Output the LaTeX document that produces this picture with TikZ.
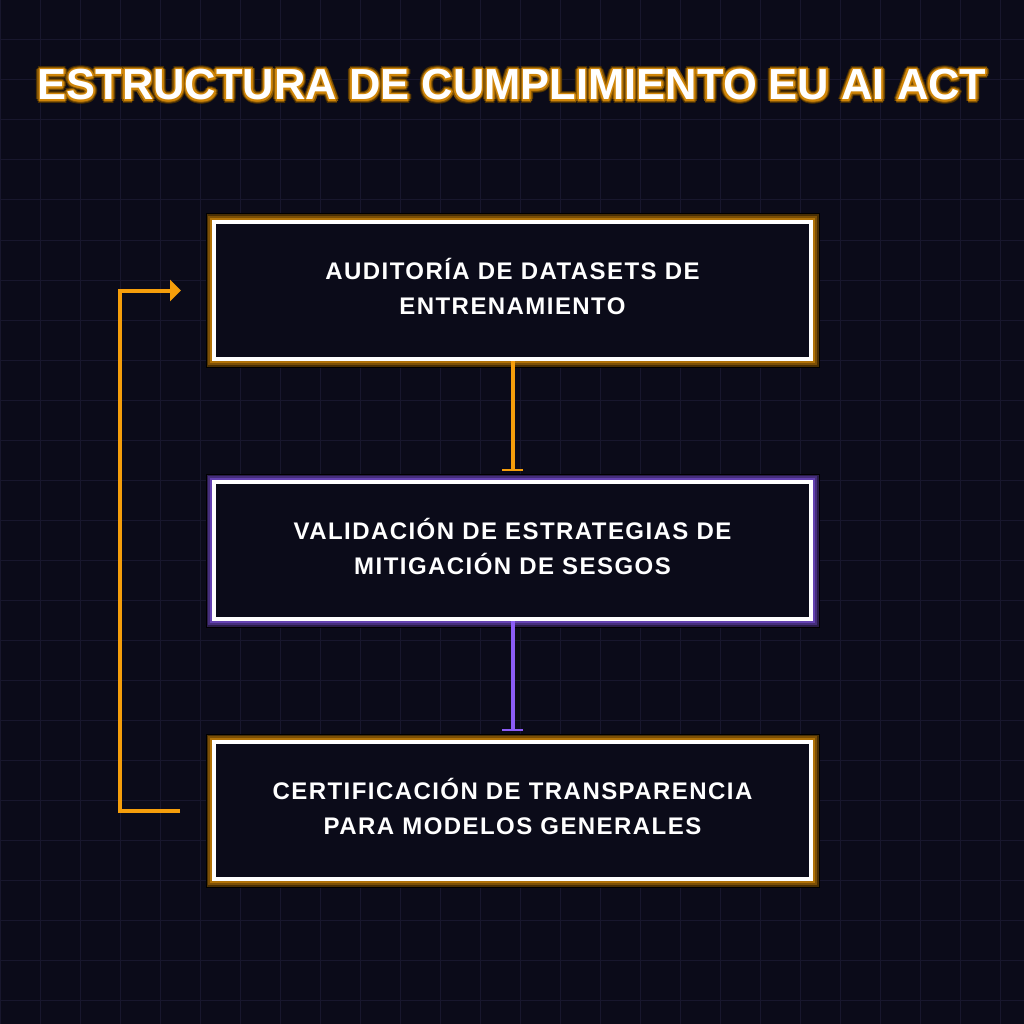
\documentclass[tikz,border=0pt]{standalone}
\usepackage{fontspec}
\setmainfont{Liberation Sans}
\usetikzlibrary{
    arrows.meta,
    calc,
    positioning
}

\definecolor{canvasbg}{HTML}{0B0B19}
\definecolor{gridline}{HTML}{18172D}
\definecolor{amber}{HTML}{F59E0B}
\definecolor{violet}{HTML}{8B5CF6}

\newcommand{\titlestring}{ESTRUCTURA DE CUMPLIMIENTO EU AI ACT}

\begin{document}
\begin{tikzpicture}[
    x=1pt,
    y=-1pt,
    node distance=119pt,
    stage/.style={
        rectangle,
        draw=white,
        line width=4pt,
        fill=canvasbg,
        text=white,
        align=center,
        text depth=8pt,
        minimum width=597pt,
        minimum height=137pt,
        font={\fontsize{24}{35.5}\selectfont\bfseries\addfontfeature{LetterSpace=6}},
        preaction={draw=black, line width=17pt},
        preaction={draw=#1!30!black, line width=15pt},
        preaction={draw=#1!50!black, line width=12pt},
        preaction={draw=#1!72!black, line width=8pt}
    },
    link/.style={
        draw=#1,
        line width=4pt,
        shorten >=9pt,
        -{Bar[width=21pt,line width=2.5pt]}
    },
    loopback/.style={
        draw=amber,
        line width=4pt,
        -{Triangle[width=21pt,length=11pt]}
    },
    titleglow/.style={
        text=#1,
        font={\fontsize{43.5}{50}\selectfont\bfseries}
    }
]

%--------------------------------------------------
\useasboundingbox (0,0) rectangle (1024,1024);
\fill[canvasbg] (0,0) rectangle (1024,1024);
\foreach \g in {0,40,...,1000} {
    \draw[gridline, line width=1pt] (\g,0) -- (\g,1024);
    \draw[gridline, line width=1pt] (0,\g) -- (1024,\g);
}

%--------------------------------------------------
% title with glow
\foreach \a in {0,30,...,330} {
    \node[titleglow=black!70!amber] (glowa-\a) at ($(512,85)+(\a:3.6)$) {\titlestring};
}
\foreach \a in {0,30,...,330} {
    \node[titleglow=amber!55!black] (glowb-\a) at ($(512,85)+(\a:2.6)$) {\titlestring};
}
\foreach \a in {0,45,...,315} {
    \node[titleglow=amber!85!black] (glowc-\a) at ($(512,85)+(\a:1.5)$) {\titlestring};
}
\node[titleglow=white] (title) at (512,85) {\titlestring};

%--------------------------------------------------
\node[stage=amber] (audit) at (512.5,290.5)
{
AUDITORÍA DE DATASETS DE\\
ENTRENAMIENTO
};

\node[stage=violet, below=of audit] (mitig)
{
VALIDACIÓN DE ESTRATEGIAS DE\\
MITIGACIÓN DE SESGOS
};

\node[stage=amber, below=of mitig] (certif)
{
CERTIFICACIÓN DE TRANSPARENCIA\\
PARA MODELOS GENERALES
};

%--------------------------------------------------
\draw[link=amber] (audit) -- (mitig);
\draw[link=violet] (mitig) -- (certif);

\coordinate (loopout) at ([xshift=-32pt]certif.west);
\coordinate (loopin) at ([xshift=-31pt]audit.west);
\draw[loopback] (loopout) -- ++(-60,0) |- (loopin);

\end{tikzpicture}
\end{document}
